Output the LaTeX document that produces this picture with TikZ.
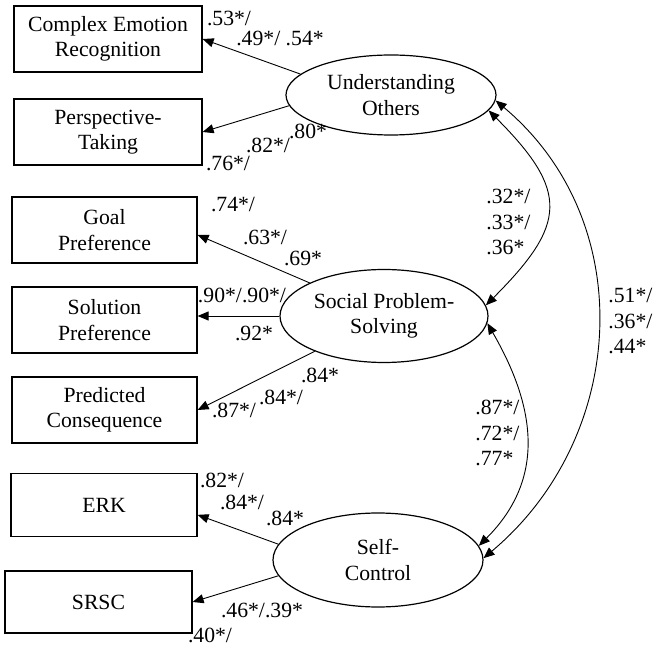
\documentclass[tikz,border=0pt]{standalone}
\usepackage{fontspec}
\setmainfont{Liberation Serif}
\usetikzlibrary{arrows.meta,shapes.geometric}

\begin{document}
\begin{tikzpicture}[x=0.5pt,y=-0.5pt,
	font=\fontsize{10.85}{12.6}\selectfont,
	obs/.style={draw,line width=0.6pt,minimum width=94pt,minimum height=33pt,inner sep=0pt,align=center},
	lat/.style={draw,ellipse,line width=0.6pt,inner sep=0pt,align=center},
	load/.style={inner sep=0pt},
	path/.style={line width=0.45pt,-{Triangle[length=5.5pt,width=4.5pt]}},
	cov/.style={line width=0.45pt,{Triangle[length=5.5pt,width=4.5pt]}-{Triangle[length=5.5pt,width=4.5pt]}}]
			\useasboundingbox (0,0) rectangle (653,646);

			% indicators
			\node[obs] (cer) at (108,39) {Complex Emotion\\Recognition};
			\node[obs] (pt) at (108,132) {Perspective-\\Taking};
			\node[obs,minimum width=92.5pt] (gp) at (104.5,230) {Goal\\Preference};
			\node[obs,minimum width=92.5pt] (sp) at (104.5,320) {Solution\\Preference};
			\node[obs,minimum width=92.5pt] (pc) at (104.5,410) {Predicted\\Consequence};
			\node[obs,minimum width=93pt,minimum height=31.5pt] (erk) at (104,505) {ERK};
			\node[obs,minimum width=93.5pt,minimum height=31pt] (srsc) at (98.5,602) {SRSC};

			% factors
			\node[lat,minimum width=105pt,minimum height=40pt] (uo) at (391,95) {Understanding\\Others};
			\node[lat,minimum width=104pt,minimum height=46.5pt] (sps) at (384,316) {Social Problem-\\Solving};
			\node[lat,minimum width=105pt,minimum height=47pt] (sc) at (378,560) {Self-\\Control};

			% loadings
			\draw[path] (uo.167) -- (cer.east);
			\draw[path] (uo.186) -- (pt.east);
			\draw[path] (sps.156) -- (gp.-3);
			\draw[path] (sps.west) -- (sps.west -| sp.east);
			\draw[path] (sps.207) -- (pc.east);
			\draw[path] (sc.171) -- (erk.-6);
			\draw[path] (sc.189) -- (srsc.east);

			% correlations
			\draw[cov] (uo.-9) to[out=-45,in=45,looseness=1.5] (sps.6);
			\draw[cov] (sps.-4) to[out=-60,in=45,looseness=1.1] (sc.8);
			\draw[cov] (uo.-3) to[out=-40,in=40,looseness=1.05] (sc.1);

			\node[load] (l1) at (229,18) {.53*/};
			\node[load] (l2) at (280,38) {.49*/ .54*};
			\node[load] (l3) at (228,163) {.76*/};
			\node[load] (l4) at (268,145) {.82*/};
			\node[load] (l5) at (308,131) {.80*};
			\node[load] (l6) at (233,205) {.74*/};
			\node[load] (l7) at (265,237) {.63*/};
			\node[load] (l8) at (303,258) {.69*};
			\node[load] (l9) at (242,295) {.90*/.90*/};
			\node[load] (l10) at (254,333) {.92*};
			\node[load] (l11) at (320,375) {.84*};
			\node[load] (l12) at (281,397) {.84*/};
			\node[load] (l13) at (234,410) {.87*/};
			\node[load] (l14) at (222,480) {.82*/};
			\node[load] (l15) at (242,502) {.84*/};
			\node[load] (l16) at (285,518) {.84*};
			\node[load] (l17) at (262,610) {.46*/.39*};
			\node[load] (l18) at (210,635) {.40*/};

			\node[load,align=left,anchor=west] (r1) at (486,222) {.32*/\\.33*/\\.36*};
			\node[load,align=left,anchor=west] (r2) at (475,433) {.87*/\\.72*/\\.77*};
			\node[load,align=left,anchor=west] (r3) at (608,321) {.51*/\\.36*/\\.44*};
			\end{tikzpicture}
\end{document}
